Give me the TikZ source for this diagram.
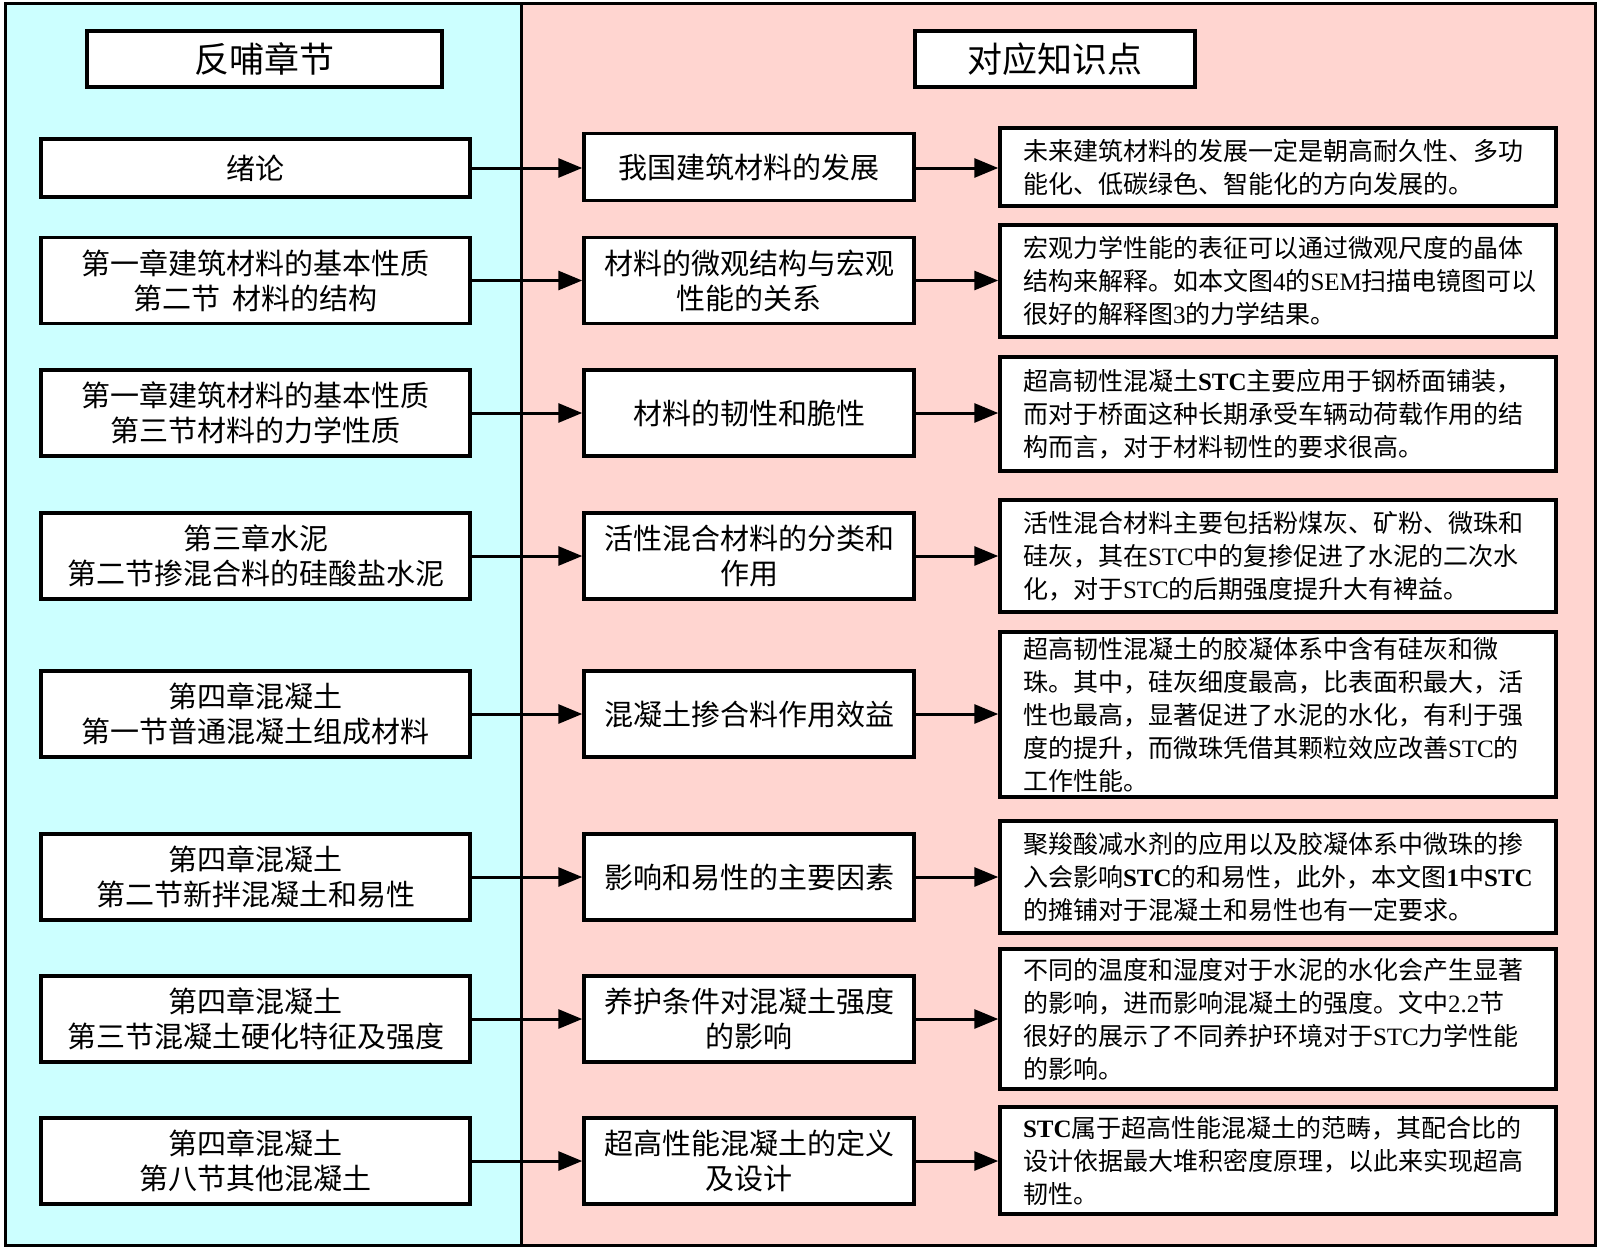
\documentclass[tikz,border=0pt]{standalone}
\usepackage{fontspec}
\setmainfont{Noto Sans CJK SC}
\newfontfamily\latfont{Liberation Serif}
\usetikzlibrary{arrows.meta}
\definecolor{leftbg}{RGB}{204,255,255}
\definecolor{rightbg}{RGB}{255,213,208}
\newcommand{\latr}[1]{{\latfont #1}}
\newcommand{\latb}[1]{{\latfont\bfseries #1}}
\begin{document}
\begin{tikzpicture}[x=1pt,y=-1pt,
  box/.style={draw=black, fill=white, line width=3.5pt, inner sep=0pt, align=center},
  lbox/.style={box, minimum width=429pt, minimum height=86pt, font=\fontsize{29}{35}\selectfont},
  mbox/.style={box, minimum width=330pt, minimum height=86pt, font=\fontsize{29}{35}\selectfont},
  rbox/.style={box, text width=510pt, inner xsep=23pt, inner ysep=0pt, align=left, font=\fontsize{25}{33}\selectfont},
  titlebox/.style={box, minimum height=56pt, font=\fontsize{35}{40}\selectfont},
  arr/.style={line width=3pt, -{Triangle[length=24pt,width=19pt]}}]

\useasboundingbox (0,0) rectangle (1600,1250);
\fill[leftbg] (5,3) rectangle (521,1245);
\fill[rightbg] (521,3) rectangle (1595,1245);
\draw[line width=3pt] (5,3) rectangle (1595,1245);
\draw[line width=3pt] (521,3) -- (521,1245);

\node[titlebox, minimum width=355pt] (tl) at (264.5,59) {反哺章节};
\node[titlebox, minimum width=280pt] (tr) at (1055,59) {对应知识点};

% left column
\node[lbox, minimum height=58pt] (l1) at (255.5,168) {绪论};
\node[lbox] (l2) at (255.5,280.5) {第一章建筑材料的基本性质\\第二节\hspace{0.4em}材料的结构};
\node[lbox] (l3) at (255.5,413) {第一章建筑材料的基本性质\\第三节材料的力学性质};
\node[lbox] (l4) at (255.5,556) {第三章水泥\\第二节掺混合料的硅酸盐水泥};
\node[lbox] (l5) at (255.5,714) {第四章混凝土\\第一节普通混凝土组成材料};
\node[lbox] (l6) at (255.5,877) {第四章混凝土\\第二节新拌混凝土和易性};
\node[lbox] (l7) at (255.5,1019) {第四章混凝土\\第三节混凝土硬化特征及强度};
\node[lbox] (l8) at (255.5,1161) {第四章混凝土\\第八节其他混凝土};

% middle column
\node[mbox, minimum height=67pt] (m1) at (749,167) {我国建筑材料的发展};
\node[mbox] (m2) at (749,280.5) {材料的微观结构与宏观\\性能的关系};
\node[mbox] (m3) at (749,413) {材料的韧性和脆性};
\node[mbox] (m4) at (749,556) {活性混合材料的分类和\\作用};
\node[mbox] (m5) at (749,714) {混凝土掺合料作用效益};
\node[mbox] (m6) at (749,877) {影响和易性的主要因素};
\node[mbox] (m7) at (749,1019) {养护条件对混凝土强度\\的影响};
\node[mbox] (m8) at (749,1161) {超高性能混凝土的定义\\及设计};

% right column
\node[rbox, minimum height=78pt] (r1) at (1278,167) {未来建筑材料的发展一定是朝高耐久性、多功\\能化、低碳绿色、智能化的方向发展的。};
\node[rbox, minimum height=112pt] (r2) at (1278,281) {宏观力学性能的表征可以通过微观尺度的晶体\\结构来解释。如本文图\latr{4}的\latr{SEM}扫描电镜图可以\\很好的解释图\latr{3}的力学结果。};
\node[rbox, minimum height=114pt] (r3) at (1278,414) {超高韧性混凝土\latb{STC}主要应用于钢桥面铺装，\\而对于桥面这种长期承受车辆动荷载作用的结\\构而言，对于材料韧性的要求很高。};
\node[rbox, minimum height=112pt] (r4) at (1278,556) {活性混合材料主要包括粉煤灰、矿粉、微珠和\\硅灰，其在\latr{STC}中的复掺促进了水泥的二次水\\化，对于\latr{STC}的后期强度提升大有裨益。};
\node[rbox, minimum height=165pt] (r5) at (1278,714.5) {超高韧性混凝土的胶凝体系中含有硅灰和微\\珠。其中，硅灰细度最高，比表面积最大，活\\性也最高，显著促进了水泥的水化，有利于强\\度的提升，而微珠凭借其颗粒效应改善\latr{STC}的\\工作性能。};
\node[rbox, minimum height=112pt] (r6) at (1278,877) {聚羧酸减水剂的应用以及胶凝体系中微珠的掺\\入会影响\latb{STC}的和易性，此外，本文图\latb{1}中\latb{STC}\\的摊铺对于混凝土和易性也有一定要求。};
\node[rbox, minimum height=140pt] (r7) at (1278,1019) {不同的温度和湿度对于水泥的水化会产生显著\\的影响，进而影响混凝土的强度。文中\latr{2.2}节\\很好的展示了不同养护环境对于\latr{STC}力学性能\\的影响。};
\node[rbox, minimum height=107pt] (r8) at (1278,1160.5) {\latb{STC}属于超高性能混凝土的范畴，其配合比的\\设计依据最大堆积密度原理，以此来实现超高\\韧性。};

% connectors
\foreach \i in {1,...,8} {
  \draw[arr] (l\i.east) -- (l\i.east -| m\i.west);
  \draw[arr] (l\i.east -| m\i.east) -- (l\i.east -| r\i.west);
}
\end{tikzpicture}
\end{document}
